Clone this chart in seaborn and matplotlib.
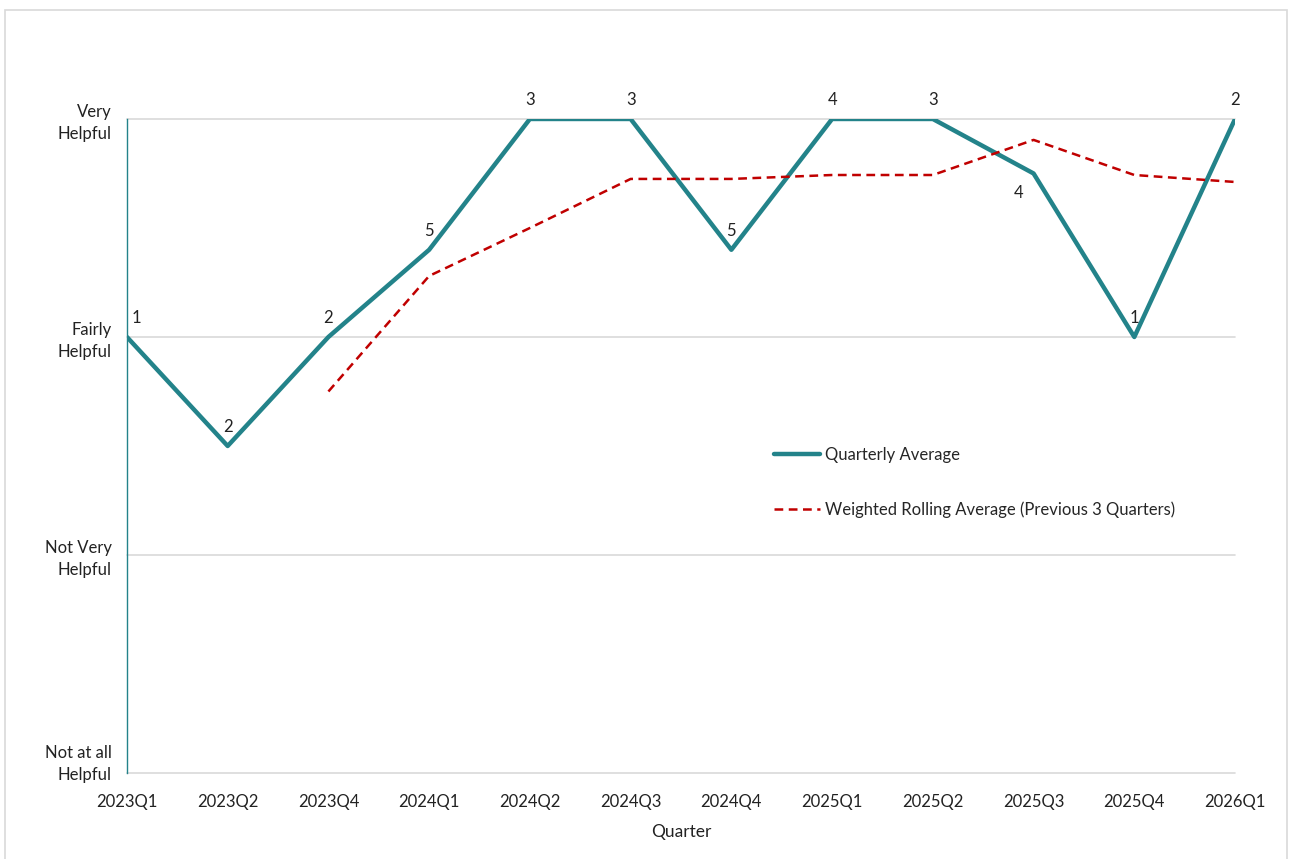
import matplotlib
matplotlib.use("Agg")
import matplotlib.pyplot as plt
import seaborn as sns
import numpy as np
import pandas as pd
from matplotlib.patches import Rectangle

# datos
quarters = ["2023Q1", "2023Q2", "2023Q4", "2024Q1", "2024Q2", "2024Q3",
            "2024Q4", "2025Q1", "2025Q2", "2025Q3", "2025Q4", "2026Q1"]
quarterly_avg = [2.0, 1.5, 2.0, 2.4, 3.0, 3.0, 2.4, 3.0, 3.0, 2.75, 2.0, 3.0]
rolling_avg = [np.nan, np.nan, 1.75, 2.28, 2.50, 2.725, 2.725, 2.743, 2.743, 2.904, 2.743, 2.711]
counts = [1, 2, 2, 5, 3, 3, 5, 4, 3, 4, 1, 2]
y_labels = ["Not at all\nHelpful", "Not Very\nHelpful", "Fairly\nHelpful", "Very\nHelpful"]

teal = "#23838A"
red = "#C00000"
txt = "#222222"

sns.set_style("white")
plt.rcParams["font.family"] = ["Lato", "DejaVu Sans"]

df = pd.DataFrame({"pos": np.arange(len(quarters)), "quarter": quarters,
                   "avg": quarterly_avg, "roll": rolling_avg, "n": counts})

fig = plt.figure(figsize=(12.9, 8.59), dpi=100)
ax = fig.add_axes([0.0984, 0.1001, 0.8590, 0.7614])

sns.lineplot(data=df, x="pos", y="avg", ax=ax, color=teal, linewidth=3.2,
             label="Quarterly Average", zorder=3)
sns.lineplot(data=df.dropna(), x="pos", y="roll", ax=ax, color=red, linewidth=1.8,
             label="Weighted Rolling Average (Previous 3 Quarters)", zorder=3)
ax.lines[1].set_dashes((3.5, 2.2))

# etiquetas de conteo
for i, row in df.iterrows():
    dx, dy, va = 0, 8, "bottom"
    if i == 0:
        dx = 7
    if row["quarter"] == "2025Q3":
        dx, dy, va = -11, -8, "top"
    ax.annotate(str(row["n"]), (row["pos"], row["avg"]), xytext=(dx, dy),
                textcoords="offset points", ha="center", va=va,
                fontsize=12, color=txt, annotation_clip=False)

ax.set_xlim(0, len(quarters) - 1)
ax.set_ylim(0, 3)
ax.set_xticks(df["pos"])
ax.set_xticklabels(quarters, fontsize=12, color=txt)
ax.set_yticks([0, 1, 2, 3])
# la etiqueta de abajo va un poco mas arriba, como en Excel
ax.set_yticklabels([""] + y_labels[1:], fontsize=12, color=txt, linespacing=1.45,
                   multialignment="right")
ax.annotate(y_labels[0], (0, 0), xycoords=("axes fraction", "data"), xytext=(-11, 6.5),
            textcoords="offset points", ha="right", va="center", fontsize=12,
            color=txt, linespacing=1.45, multialignment="right", annotation_clip=False)
ax.set_xlabel("Quarter", fontsize=12.5, color=txt, labelpad=10)
ax.set_ylabel("")

# lineas horizontales de la rejilla
for yv in [0, 1, 2, 3]:
    ax.axhline(yv, color="#D9D9D9", linewidth=1.2, zorder=0, clip_on=False)
for s in ["top", "right", "bottom"]:
    ax.spines[s].set_visible(False)
ax.spines["left"].set_color(teal)
ax.spines["left"].set_linewidth(1)
ax.spines["left"].set_zorder(1)
ax.tick_params(axis="y", length=5, color=teal, width=1, pad=6)
ax.tick_params(axis="x", length=5, color="#D9D9D9", width=1, pad=10)

ax.legend(loc="upper left", bbox_to_anchor=(0.588, 0.497), bbox_transform=fig.transFigure,
          frameon=False, fontsize=12, labelspacing=2.3, handlelength=2.8,
          handletextpad=0.3)

fig.patches.append(Rectangle((0.004, -0.01), 0.994, 0.998, transform=fig.transFigure,
                             fill=False, edgecolor="#D9D9D9", linewidth=1.2))

fig.savefig("out.png", dpi=100)
